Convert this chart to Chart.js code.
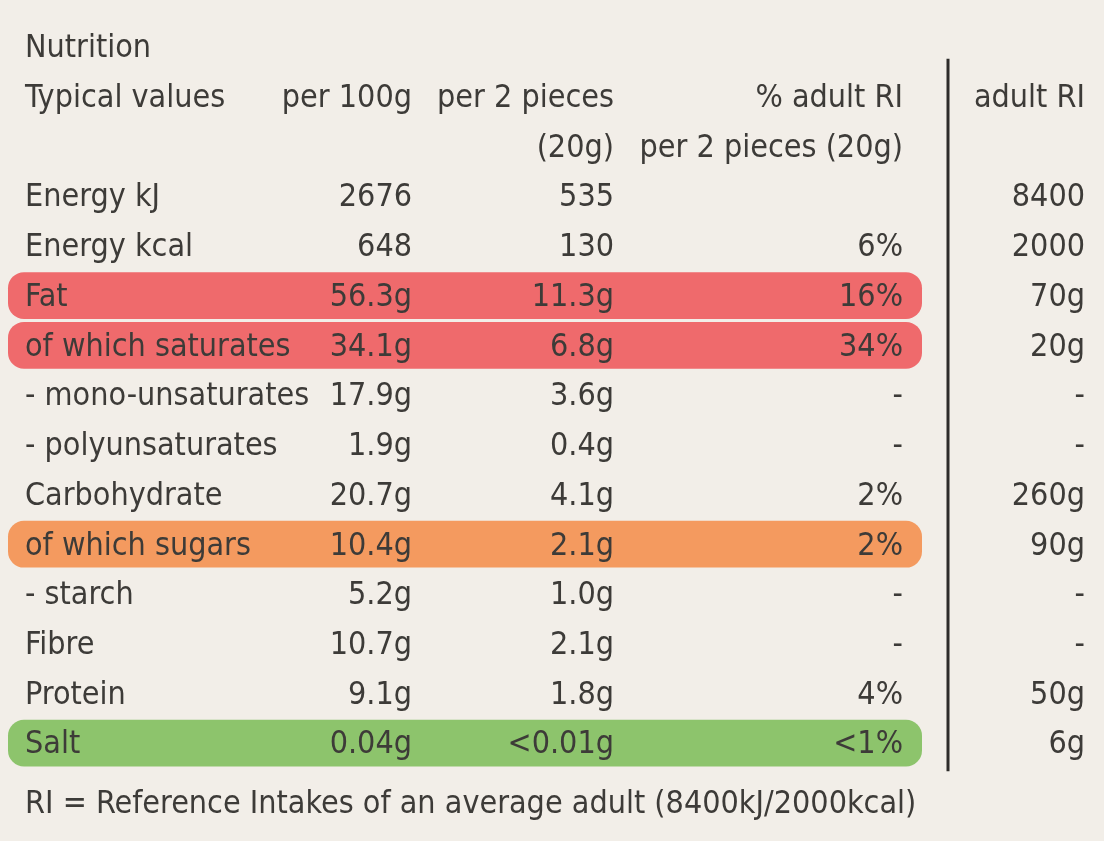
<!DOCTYPE html>
<html>
<head>
<meta charset="utf-8">
<script src="https://cdn.jsdelivr.net/npm/chart.js@4/dist/chart.umd.min.js"></script>
<style>
  body { margin: 0; background: #f2eee8; }
  canvas { display: block; }
</style>
</head>
<body>
<canvas id="tabela" width="1104" height="841"></canvas>
<script>
const rowLabels = ["Nutrition", "Typical values", "", "Energy kJ", "Energy kcal", "Fat", "of which saturates",
  "- mono-unsaturates", "- polyunsaturates", "Carbohydrate", "of which sugars", "- starch", "Fibre", "Protein", "Salt"];
const per100g = ["", "per 100g", "", "2676", "648", "56.3g", "34.1g", "17.9g", "1.9g", "20.7g", "10.4g", "5.2g", "10.7g", "9.1g", "0.04g"];
const perPortion = ["", "per 2 pieces", "(20g)", "535", "130", "11.3g", "6.8g", "3.6g", "0.4g", "4.1g", "2.1g", "1.0g", "2.1g", "1.8g", "<0.01g"];
const riPercent = ["", "% adult RI", "per 2 pieces (20g)", "", "6%", "16%", "34%", "-", "-", "2%", "2%", "-", "-", "4%", "<1%"];
const adultRI = ["", "adult RI", "", "8400", "2000", "70g", "20g", "-", "-", "260g", "90g", "-", "-", "50g", "6g"];
const highlight = [null, null, null, null, null, "red", "red", null, null, null, "amber", null, null, null, "green"];
const footnote = "RI = Reference Intakes of an average adult (8400kJ/2000kcal)";

const cores = { red: "#ef6a6c", amber: "#f49a5f", green: "#8dc46c" };
const fonte = '32px "DejaVu Sans Condensed", "Liberation Sans Narrow", sans-serif';
const corTexto = "#3d3b38";

const textoPlugin = {
  id: "textoTabela",
  afterDatasetsDraw(chart) {
    const { ctx, scales: { x, y } } = chart;
    ctx.save();
    ctx.font = fonte;
    ctx.fillStyle = corTexto;
    ctx.textBaseline = "middle";
    rowLabels.forEach((lab, i) => {
      const py = y.getPixelForValue(i) + 2;
      ctx.textAlign = "left";
      ctx.fillText(lab, x.getPixelForValue(25), py);
      ctx.textAlign = "right";
      ctx.fillText(per100g[i], x.getPixelForValue(412), py);
      ctx.fillText(perPortion[i], x.getPixelForValue(614), py);
      ctx.fillText(riPercent[i], x.getPixelForValue(903), py);
      ctx.fillText(adultRI[i], x.getPixelForValue(1085), py);
    });
    // rodapé
    ctx.textAlign = "left";
    ctx.fillText(footnote, x.getPixelForValue(25), y.getPixelForValue(14) + 62);
    // linha vertical antes da coluna adult RI
    ctx.strokeStyle = "#2e2c2a";
    ctx.lineWidth = 3;
    ctx.beginPath();
    ctx.moveTo(x.getPixelForValue(948), y.getPixelForValue(0) + 12);
    ctx.lineTo(x.getPixelForValue(948), y.getPixelForValue(14) + 28);
    ctx.stroke();
    ctx.restore();
  }
};

new Chart(document.getElementById("tabela").getContext("2d"), {
  type: "bar",
  data: {
    labels: rowLabels.map((l, i) => String(i)),
    datasets: [{
      data: highlight.map(h => h ? [8, 922] : null),
      backgroundColor: highlight.map(h => h ? cores[h] : "transparent"),
      borderRadius: 16,
      borderSkipped: false,
      barPercentage: 1,
      categoryPercentage: 0.94
    }]
  },
  options: {
    indexAxis: "y",
    responsive: false,
    animation: false,
    layout: { padding: { top: 22, left: 0, right: 0, bottom: 73 } },
    scales: {
      x: { type: "linear", min: 0, max: 1104, display: false },
      y: { type: "category", display: false, offset: true }
    },
    plugins: {
      legend: { display: false },
      tooltip: { enabled: false }
    }
  },
  plugins: [textoPlugin, {
    id: "fundo",
    beforeDraw(chart) {
      const c = chart.ctx;
      c.save();
      c.fillStyle = "#f2eee8";
      c.fillRect(0, 0, chart.width, chart.height);
      c.restore();
    }
  }]
});
</script>
</body>
</html>
